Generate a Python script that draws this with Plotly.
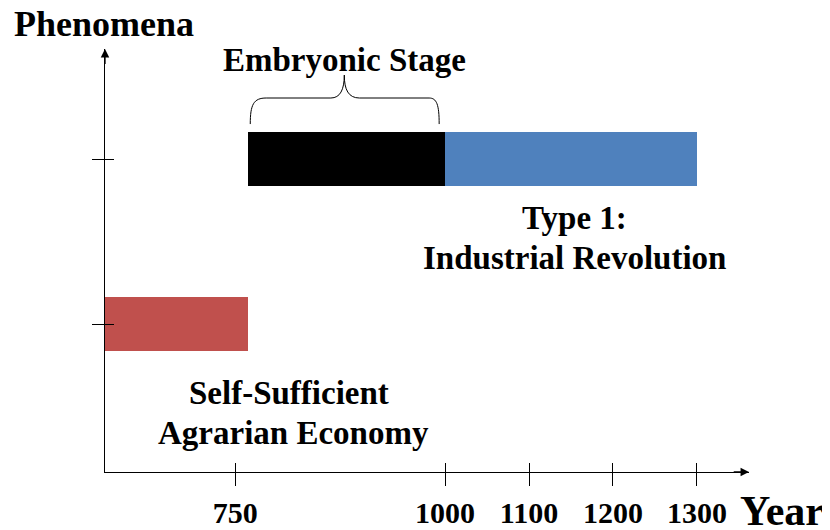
import plotly.graph_objects as go

# ---- data ----
phases = ["Self-Sufficient Agrarian Economy", "Embryonic Stage", "Type 1: Industrial Revolution"]
start_year = [595, 765, 1000]
end_year = [765, 1000, 1300]
row = [1, 2, 2]
colors = ["#C0504D", "#000000", "#4F81BD"]
tick_years = [750, 1000, 1100, 1200, 1300]
tick_labels = ["750", "1000", "1100", "1200", "1300"]
row_ticks = [1, 2]

X_RANGE = [595, 1362]
Y_RANGE = [0.103, 2.667]
FONT = "Liberation Serif"

fig = go.Figure()
fig.add_trace(go.Bar(
    orientation="h",
    y=row,
    base=start_year,
    x=[e - s for s, e in zip(start_year, end_year)],
    width=0.327,
    marker=dict(color=colors, line=dict(width=0)),
    hovertext=phases,
    showlegend=False,
))
# invisible trace for overlay axes (inside ticks)
fig.add_trace(go.Scatter(x=[X_RANGE[0]], y=[Y_RANGE[0]], xaxis="x2", yaxis="y2",
                         mode="markers", marker=dict(opacity=0), showlegend=False, hoverinfo="skip"))

axis_common = dict(showgrid=False, zeroline=False, automargin=False)
fig.update_layout(
    width=822, height=522,
    margin=dict(l=97, r=81, t=41, b=58, autoexpand=False),
    plot_bgcolor="white", paper_bgcolor="white",
    bargap=0,
    xaxis=dict(range=X_RANGE, tickvals=tick_years, ticktext=tick_labels,
               ticks="outside", ticklen=13, tickwidth=1, tickcolor="black",
               showline=True, linecolor="black", linewidth=1.3,
               tickfont=dict(family=FONT, size=30, color="black", weight="bold"),
               ticklabelstandoff=1, **axis_common),
    yaxis=dict(range=Y_RANGE, tickvals=row_ticks, showticklabels=False,
               ticks="outside", ticklen=12, tickwidth=1, tickcolor="black",
               showline=True, linecolor="black", linewidth=1.3, **axis_common),
    xaxis2=dict(range=X_RANGE, overlaying="x", anchor="y2", tickvals=tick_years,
                showticklabels=False, ticks="inside", ticklen=9, tickwidth=1,
                tickcolor="black", showline=False, **axis_common),
    yaxis2=dict(range=Y_RANGE, overlaying="y", anchor="x2", tickvals=row_ticks,
                showticklabels=False, ticks="inside", ticklen=9, tickwidth=1,
                tickcolor="black", showline=False, **axis_common),
)

# axis arrows
fig.add_annotation(x=X_RANGE[1], y=Y_RANGE[0], ax=X_RANGE[1] - 20, ay=Y_RANGE[0],
                   xref="x", yref="y", axref="x", ayref="y", text="", showarrow=True,
                   arrowhead=2, arrowsize=1.3, arrowwidth=1.3, arrowcolor="black", standoff=0)
fig.add_annotation(x=X_RANGE[0], y=Y_RANGE[1], ax=X_RANGE[0], ay=Y_RANGE[1] - 0.1,
                   xref="x", yref="y", axref="x", ayref="y", text="", showarrow=True,
                   arrowhead=2, arrowsize=1.3, arrowwidth=1.3, arrowcolor="black", standoff=0)

# brace over embryonic stage
brace = ("M 768,2.212 C 768,2.33 772,2.37 787,2.37 L 864,2.37 "
         "C 875,2.37 880,2.42 880,2.509 C 880,2.42 885,2.37 898,2.37 "
         "L 981,2.37 C 990,2.37 993,2.33 993,2.212")
fig.add_shape(type="path", path=brace, xref="x", yref="y",
              line=dict(color="black", width=1))

def label(text, x, y, size=33, xref="x", yref="y"):
    fig.add_annotation(text=text, x=x, y=y, xref=xref, yref=yref, showarrow=False,
                       xanchor="center", yanchor="middle",
                       font=dict(family=FONT, size=size, color="black", weight="bold"))

label("Phenomena", -0.0016, 1.058, size=36, xref="paper", yref="paper")
label("Year", 1.051, -0.092, size=42, xref="paper", yref="paper")
label("Embryonic Stage", 880, 2.6)
label("Type 1:", 1153.6, 1.642)
label("Industrial Revolution", 1153.6, 1.40)
label("Self-Sufficient", 814, 0.582)
label("Agrarian Economy", 820, 0.339)

fig.write_html("out.html")
